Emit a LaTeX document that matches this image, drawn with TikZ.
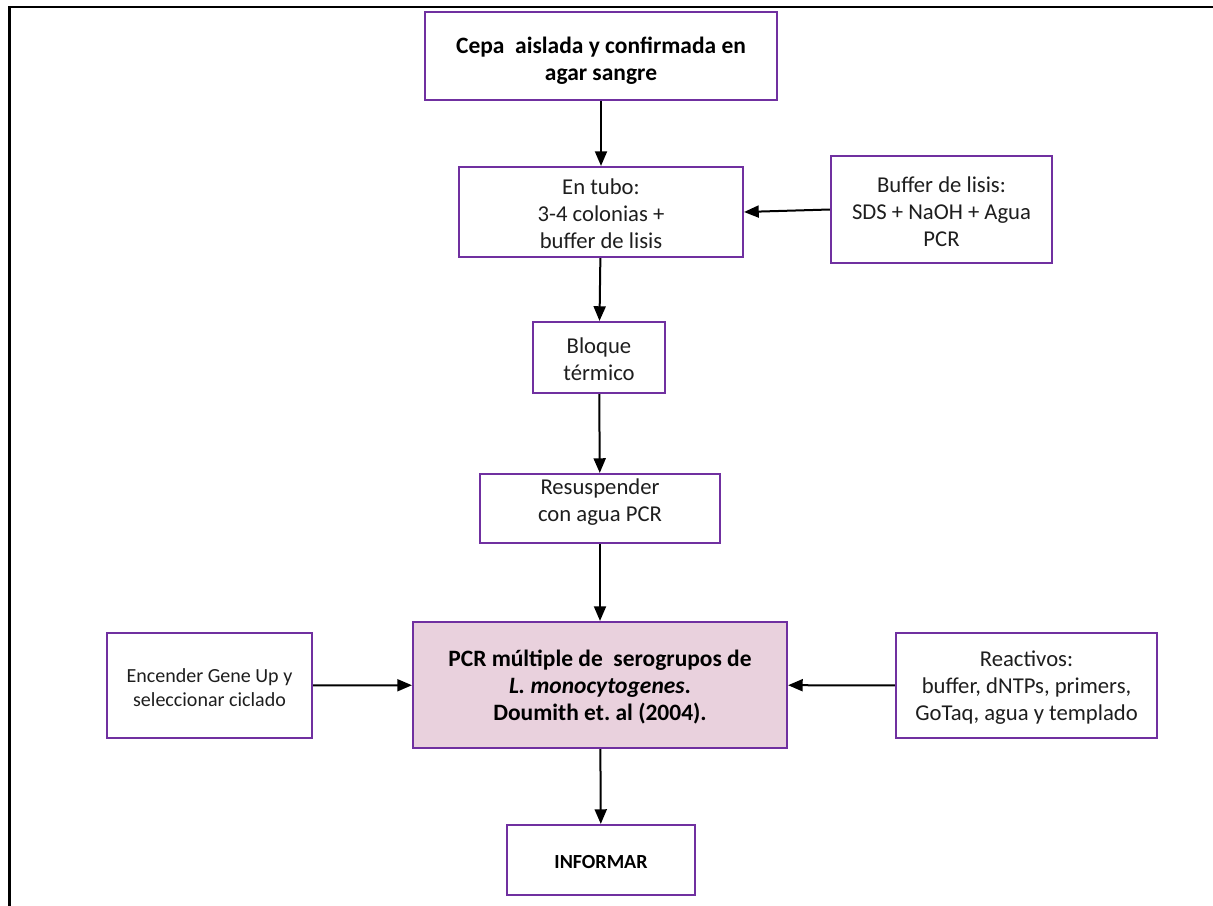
\documentclass[tikz,border=0pt]{standalone}
\usepackage{fontspec}
\setmainfont{Carlito}
\usetikzlibrary{arrows.meta}
\definecolor{boxline}{RGB}{112,48,160}
\definecolor{boxfill}{RGB}{233,209,221}
\definecolor{ink}{RGB}{30,30,30}
\begin{document}
\begin{tikzpicture}[x=0.75pt, y=-0.75pt,
  stepbox/.style={draw=boxline, line width=1.6pt, fill=white, inner sep=0pt},
  sz/.style 2 args={minimum width=#1*0.75pt, minimum height=#2*0.75pt},
  txt/.style={align=center, inner sep=0pt, text=ink, font=\fontsize{17}{20.3}\selectfont},
  boldtxt/.style={align=center, inner sep=0pt, text=black, font=\fontsize{17.6}{20.3}\selectfont\bfseries},
  smalltxt/.style={align=center, inner sep=0pt, text=ink, font=\fontsize{15}{18}\selectfont},
  flow/.style={draw=black, line width=1.5pt, -{Triangle[length=11pt,width=9pt]}}
]
\useasboundingbox (0,0) rectangle (1213,906);

% page frame (left and top edges)
\draw[line width=2pt] (9.3,906) -- (9.3,7) -- (1213,7);

% boxes
\node[stepbox, sz={352}{88}] (cepa) at (601,56) {};
\node[boldtxt] (cepa-t) at (601,61)
  {Cepa\ \ aislada y confirmada en\\agar sangre};

\node[stepbox, sz={284}{90}] (tubo) at (601,212) {};
\node[txt] (tubo-t) at (601,214) {En tubo:\\3-4 colonias +\\buffer de lisis};

\node[stepbox, sz={221}{107}] (lisis) at (941.5,209.5) {};
\node[txt] (lisis-t) at (941.5,212) {Buffer de lisis:\\SDS + NaOH + Agua\\PCR};

\node[stepbox, sz={132}{71}] (bloque) at (599,357.5) {};
\node[txt] (bloque-t) at (599,359.5) {Bloque\\térmico};

\node[stepbox, sz={240}{69}] (resus) at (600,508.5) {};
\node[txt] (resus-t) at (600,502) {Resuspender\\con agua PCR};

\node[stepbox, fill=boxfill, sz={374}{126}] (pcr) at (600,685) {};
\node[boldtxt] (pcr-t) at (600,687)
  {PCR múltiple de\ \ serogrupos de\\\textit{L.\ monocytogenes}.\\Doumith et.\ al (2004).};

\node[stepbox, sz={205}{105}] (gene) at (209.5,685.5) {};
\node[smalltxt] (gene-t) at (209.5,688) {Encender Gene Up y\\seleccionar ciclado};

\node[stepbox, sz={261}{105}] (reac) at (1026.5,685.5) {};
\node[txt] (reac-t) at (1026.5,688) {Reactivos:\\buffer, dNTPs, primers,\\GoTaq, agua y templado};

\node[stepbox, sz={188}{70}] (inf) at (601,860) {};
\node[smalltxt, font=\fontsize{15}{18}\selectfont\bfseries, text=black] (inf-t) at (601,862) {INFORMAR};

% connectors
\draw[flow] (cepa) -- (tubo);
\draw[flow] (lisis.west) -- (tubo.east);
\draw[flow] (tubo) -- (bloque);
\draw[flow] (bloque) -- (resus);
\draw[flow] (resus) -- (pcr);
\draw[flow] (gene) -- (pcr);
\draw[flow] (reac) -- (pcr);
\draw[flow] (pcr) -- (inf);
\end{tikzpicture}
\end{document}
